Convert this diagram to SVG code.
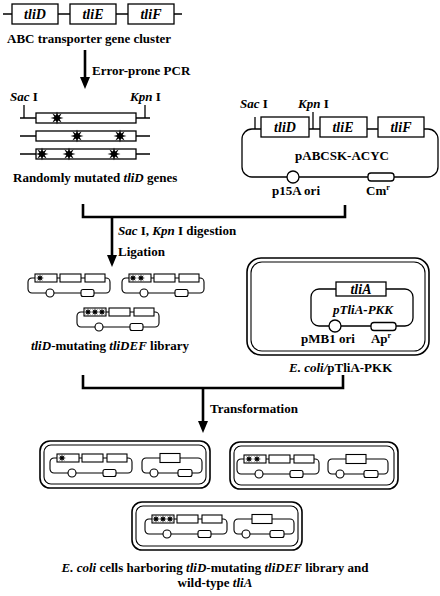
<svg xmlns="http://www.w3.org/2000/svg" xmlns:xlink="http://www.w3.org/1999/xlink" width="440" height="596" viewBox="0 0 440 596">
<style>
text{font-family:"Liberation Serif","Times New Roman",serif;font-weight:bold;font-size:13px;fill:#000}
.i{font-style:italic}
.g{font-size:14px;font-style:italic}
.ln{fill:none;stroke:#000;stroke-width:1.3}
.bx{fill:#fff;stroke:#000;stroke-width:1.3}
.th{fill:none;stroke:#000;stroke-width:2.6}
.hd{fill:#000}
.cell{fill:#fff;stroke:#000;stroke-width:1.6}
.cin{fill:none;stroke:#000;stroke-width:1.1}
.sl{fill:none;stroke:#000;stroke-width:1.1}
.sb{fill:#fff;stroke:#000;stroke-width:1.1}
</style>
<defs>
<polygon id="star" points="6.5,0 2.6,1.1 4.6,4.6 1.1,2.6 0,6.5 -1.1,2.6 -4.6,4.6 -2.6,1.1 -6.5,0 -2.6,-1.1 -4.6,-4.6 -1.1,-2.6 0,-6.5 1.1,-2.6 4.6,-4.6 2.6,-1.1" fill="#000"/>
<g id="lib">
<rect class="sl" x="0" y="0" width="82" height="15" rx="4"/>
<rect class="sb" x="7" y="-4" width="22" height="8"/>
<rect class="sb" x="32" y="-4" width="21" height="8"/>
<rect class="sb" x="57" y="-4" width="20" height="8"/>
<circle class="sb" cx="22" cy="15" r="4"/>
<rect class="sb" x="53" y="11.5" width="13" height="7" rx="2"/>
</g>
<g id="tla">
<rect class="sl" x="0" y="0" width="60" height="15" rx="4"/>
<rect class="sb" x="18" y="-4.5" width="20" height="9"/>
<circle class="sb" cx="12" cy="15" r="4"/>
<rect class="sb" x="36" y="11.5" width="14" height="7" rx="2"/>
</g>
</defs>

<g id="gene-cluster">
<line class="ln" x1="3" y1="14" x2="182" y2="14"/>
<rect class="bx" x="12" y="4" width="46" height="20"/>
<rect class="bx" x="70" y="4" width="46" height="20"/>
<rect class="bx" x="128" y="4" width="46" height="20"/>
<text class="g" x="35" y="19" text-anchor="middle">tliD</text>
<text class="g" x="93" y="19" text-anchor="middle">tliE</text>
<text class="g" x="151" y="19" text-anchor="middle">tliF</text>
<text x="7" y="43" font-size="12.4">ABC transporter gene cluster</text>
</g>

<g id="mutated-genes">
<text x="10" y="101"><tspan class="i">Sac</tspan> I</text>
<text x="130" y="101"><tspan class="i">Kpn</tspan> I</text>
<line class="ln" x1="24" y1="105" x2="24" y2="118"/>
<line class="ln" x1="145" y1="105" x2="145" y2="118"/>
<line class="ln" x1="20" y1="118" x2="150" y2="118"/>
<rect class="bx" x="36" y="113" width="100" height="10"/>
<line class="ln" x1="20" y1="136" x2="150" y2="136"/>
<rect class="bx" x="36" y="131" width="100" height="10"/>
<line class="ln" x1="20" y1="154" x2="150" y2="154"/>
<rect class="bx" x="36" y="149" width="100" height="10"/>
<use href="#star" x="57" y="118"/>
<use href="#star" x="77" y="136"/>
<use href="#star" x="120" y="136"/>
<use href="#star" x="42" y="154"/>
<use href="#star" x="69" y="154"/>
<use href="#star" x="114" y="154"/>
<text x="13" y="182">Randomly mutated <tspan class="i">tliD</tspan> genes</text>
</g>

<g id="pABCSK-ACYC">
<rect class="ln" x="242" y="129" width="196" height="48" rx="10"/>
<line class="ln" x1="255" y1="117" x2="255" y2="129"/>
<line class="ln" x1="313" y1="112" x2="313" y2="129"/>
<rect class="bx" x="261" y="117" width="48" height="20"/>
<rect class="bx" x="320" y="117" width="47" height="20"/>
<rect class="bx" x="378" y="117" width="46" height="20"/>
<text class="g" x="285" y="132" text-anchor="middle">tliD</text>
<text class="g" x="343" y="132" text-anchor="middle">tliE</text>
<text class="g" x="401" y="132" text-anchor="middle">tliF</text>
<text x="240" y="108"><tspan class="i">Sac</tspan> I</text>
<text x="298" y="108"><tspan class="i">Kpn</tspan> I</text>
<text x="342" y="160" text-anchor="middle">pABCSK-ACYC</text>
<circle class="bx" cx="293" cy="177" r="6"/>
<rect class="bx" x="368" y="173" width="26" height="8" rx="3"/>
<text x="296" y="195" text-anchor="middle">p15A ori</text>
<text x="378" y="195" text-anchor="middle">Cm<tspan font-size="8" dy="-5">r</tspan></text>
</g>

<g id="connectors">
<polyline class="th" points="83,204 83,217 345,217 345,205"/>
<line class="th" x1="85" y1="50" x2="85" y2="78"/>
<polygon class="hd" points="80,77 90,77 85,89"/>
<line class="th" x1="112" y1="217" x2="112" y2="256"/>
<polygon class="hd" points="107,255 117,255 112,267"/>
<polyline class="th" points="83,375 83,388 343,388 343,375"/>
<line class="th" x1="203" y1="388" x2="203" y2="422"/>
<polygon class="hd" points="198,421 208,421 203,433"/>
<text x="92" y="75">Error-prone PCR</text>
<text x="118" y="235"><tspan class="i">Sac</tspan> I, <tspan class="i">Kpn</tspan> I digestion</text>
<text x="118" y="256">Ligation</text>
<text x="210" y="413">Transformation</text>
</g>

<g id="library">
<use href="#lib" x="28" y="278"/>
<use href="#star" transform="translate(40,278) scale(0.6)"/>
<use href="#lib" x="122" y="278"/>
<use href="#star" transform="translate(133,278) scale(0.6)"/>
<use href="#star" transform="translate(141,278) scale(0.6)"/>
<use href="#lib" x="77" y="312"/>
<use href="#star" transform="translate(88,312) scale(0.6)"/>
<use href="#star" transform="translate(95,312) scale(0.6)"/>
<use href="#star" transform="translate(102,312) scale(0.6)"/>
<text x="110" y="350" text-anchor="middle"><tspan class="i">tliD</tspan>-mutating <tspan class="i">tliDEF</tspan> library</text>
</g>

<g id="ecoli-pTliA-PKK">
<rect class="cell" x="247" y="258" width="182" height="97" rx="14"/>
<rect class="cin" x="251" y="262" width="174" height="89" rx="11"/>
<rect class="ln" x="311" y="289" width="102" height="37" rx="8"/>
<rect class="bx" x="336" y="282" width="50" height="14"/>
<text class="g" x="361" y="294" text-anchor="middle">tliA</text>
<text class="i" x="363" y="314" text-anchor="middle">pTliA-PKK</text>
<circle class="bx" cx="335" cy="326" r="6"/>
<rect class="bx" x="371" y="322.5" width="25" height="8" rx="3"/>
<text x="328" y="343" text-anchor="middle">pMB1 ori</text>
<text x="381" y="343" text-anchor="middle">Ap<tspan font-size="8" dy="-5">r</tspan></text>
<text x="289" y="372"><tspan class="i">E. coli/</tspan>pTliA-PKK</text>
</g>

<g id="cell-1">
<rect class="cell" x="40" y="441" width="170" height="47" rx="10"/>
<rect class="cin" x="44" y="445" width="162" height="39" rx="7"/>
<use href="#lib" x="50" y="458"/>
<use href="#star" transform="translate(62,458) scale(0.6)"/>
<use href="#tla" x="142" y="458"/>
</g>

<g id="cell-2">
<rect class="cell" x="230" y="442" width="168" height="47" rx="10"/>
<rect class="cin" x="234" y="446" width="160" height="39" rx="7"/>
<use href="#lib" x="237" y="459"/>
<use href="#star" transform="translate(249,459) scale(0.6)"/>
<use href="#star" transform="translate(257,459) scale(0.6)"/>
<use href="#tla" x="328" y="459"/>
</g>

<g id="cell-3">
<rect class="cell" x="132" y="502" width="170" height="48" rx="10"/>
<rect class="cin" x="136" y="506" width="162" height="40" rx="7"/>
<use href="#lib" x="145" y="519"/>
<use href="#star" transform="translate(156,519) scale(0.6)"/>
<use href="#star" transform="translate(163,519) scale(0.6)"/>
<use href="#star" transform="translate(170,519) scale(0.6)"/>
<use href="#tla" x="234" y="519"/>
</g>

<g id="caption">
<text x="215" y="572" text-anchor="middle"><tspan class="i">E. coli</tspan> cells harboring <tspan class="i">tliD</tspan>-mutating <tspan class="i">tliDEF</tspan> library and</text>
<text x="215" y="587" text-anchor="middle">wild-type <tspan class="i">tliA</tspan></text>
</g>
</svg>
